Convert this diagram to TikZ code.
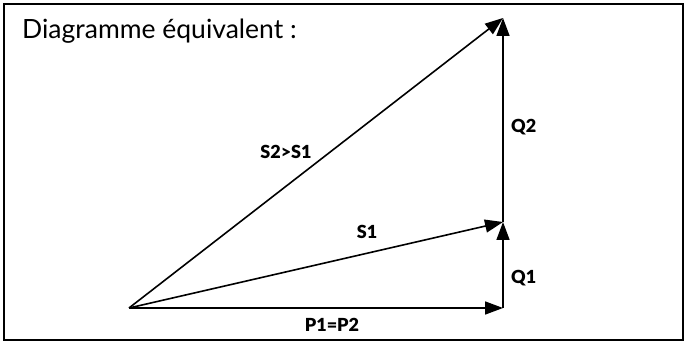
\documentclass[tikz,border=0pt]{standalone}
\usepackage{fontspec}
\setmainfont{Lato}
\newfontfamily\labelfont{Lato Black}
\usetikzlibrary{arrows.meta, positioning}

\begin{document}
\begin{tikzpicture}[
  x=1pt, y=-1pt,
  vecLine/.style={draw, line width=1.6pt, -{Triangle[length=18pt, width=13pt]}},
  vecLabel/.style={font=\fontsize{18}{20}\selectfont\labelfont, inner sep=1pt},
  titleText/.style={font=\fontsize{26.5}{30}\selectfont, anchor=base west, inner sep=0pt}
]
  \useasboundingbox (0,0) rectangle (688,344);
  \draw [line width=1.5pt] (4,4) rectangle (683,340);

  \node [titleText] (title) at (22,39) {Diagramme équivalent :};

  \coordinate (O) at (129,308);
  \coordinate (P) at (503,308);
  \coordinate (A) at (503,222);
  \coordinate (B) at (503,18);

  \draw [vecLine] (O) -- (P);
  \draw [vecLine] (P) -- (A);
  \draw [vecLine] (O) -- (A);
  \draw [vecLine] (A) -- (B);
  \draw [vecLine] (O) -- (B);

  \node [vecLabel] (p) at (332,325) {P1=P2};
  \node [vecLabel, anchor=west] (q1) at (510,278) {Q1};
  \node [vecLabel, anchor=west] (q2) at (510,127) {Q2};
  \node [vecLabel] (s1) at (367,232) {S1};
  \node [vecLabel] (s2) at (286,152) {S2>S1};
\end{tikzpicture}
\end{document}
